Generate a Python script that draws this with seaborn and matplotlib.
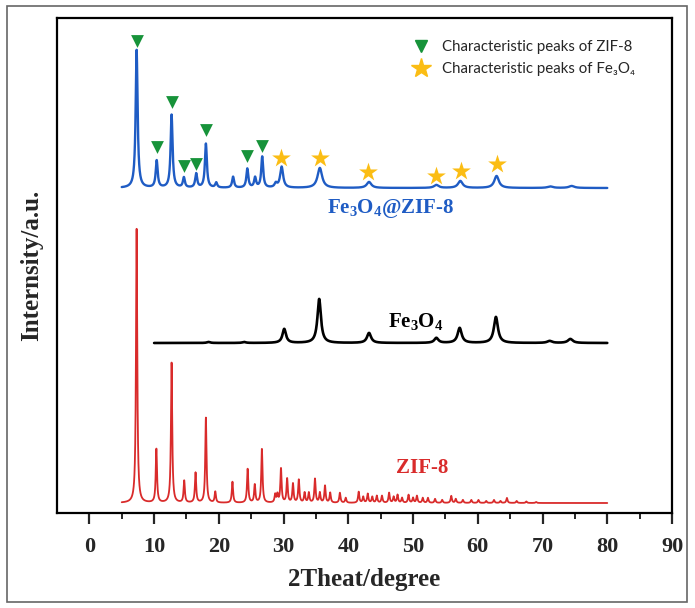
import numpy as np
import pandas as pd
import matplotlib
matplotlib.use("Agg")
import matplotlib.pyplot as plt
from matplotlib.lines import Line2D
from matplotlib.patches import Rectangle
import seaborn as sns

# --- peak tables (2theta, height above baseline, FWHM) ---
zif8_pos = [7.3, 10.35, 12.7, 14.65, 16.4, 18.0, 19.45, 22.1, 24.45, 25.55, 26.65,
            28.7, 29.05, 29.6, 30.55, 31.45, 32.35, 33.25, 33.9, 34.85, 35.6, 36.4,
            37.2, 38.7, 39.6, 41.6, 42.3, 43.0, 43.7, 44.4, 45.2, 46.3, 47.0, 47.6,
            48.3, 49.3, 50.0, 50.6, 51.5, 52.3, 53.4, 54.5, 55.9, 56.6, 57.7, 59.0,
            60.1, 61.3, 62.5, 63.5, 64.5, 66.0, 67.5, 69.0]
zif8_height = [274, 54, 140, 22, 30, 85, 11, 21, 34, 18, 54,
               8, 8, 34, 24, 19, 23, 10, 10, 24, 10, 17,
               10, 10, 5, 11, 6, 9, 6, 7, 7, 10, 6, 8,
               5, 8, 5, 7, 5, 5, 4, 3, 7, 4, 3, 3,
               3, 2, 3, 2, 5, 2, 1.5, 1]
zif8_base = 10

fe3o4_pos = [18.4, 23.9, 30.1, 35.5, 43.2, 53.6, 57.2, 62.8, 71.1, 74.3]
fe3o4_height = [1, 1, 14, 44, 10, 5, 15, 26, 2, 4]
fe3o4_fwhm = [0.6, 0.6, 0.65, 0.65, 0.75, 0.75, 0.75, 0.75, 0.9, 0.9]
fe3o4_base = 170

comp_pos = [7.3, 10.4, 12.7, 14.6, 16.5, 18.0, 19.6, 22.2, 24.4, 25.6, 26.7,
            28.8, 29.7, 35.6, 43.2, 53.6, 57.3, 62.9, 71.2, 74.5]
comp_height = [138, 27, 73, 10, 14, 44, 5, 11, 19, 10, 31,
               4, 21, 20, 6, 3, 7, 12, 1.5, 2]
comp_fwhm = [0.36, 0.36, 0.36, 0.36, 0.36, 0.36, 0.36, 0.36, 0.36, 0.36, 0.36,
             0.45, 0.55, 0.85, 0.85, 0.85, 0.85, 0.85, 1.0, 1.0]
comp_base = 325

# marker positions above characteristic peaks
tri_x = [7.3, 10.4, 12.7, 14.6, 16.5, 18.0, 24.4, 26.7]
tri_y = [472, 366, 411, 347, 349, 383, 357, 367]
star_x = [29.6, 35.6, 43.1, 53.6, 57.4, 62.9]
star_y = [355, 355, 341, 337, 342, 349]


def pattern(x, pos, height, fwhm, base):
    y = np.full_like(x, float(base))
    for p, h, w in zip(pos, height, fwhm):
        g = w / 2
        y += h * g**2 / ((x - p)**2 + g**2)
    return y


x_full = np.arange(5, 80.001, 0.02)
x_fe = np.arange(10, 80.001, 0.02)
df_zif = pd.DataFrame({"theta": x_full,
                       "intensity": pattern(x_full, zif8_pos, zif8_height,
                                            [0.23] * len(zif8_pos), zif8_base)})
df_fe = pd.DataFrame({"theta": x_fe,
                      "intensity": pattern(x_fe, fe3o4_pos, fe3o4_height, fe3o4_fwhm, fe3o4_base)})
df_comp = pd.DataFrame({"theta": x_full,
                        "intensity": pattern(x_full, comp_pos, comp_height, comp_fwhm, comp_base)})

sns.set_theme(style="white")
plt.rcParams["font.family"] = ["Liberation Serif", "DejaVu Serif"]
plt.rcParams["mathtext.fontset"] = "custom"
plt.rcParams["mathtext.rm"] = "Liberation Serif"
plt.rcParams["mathtext.bf"] = "Liberation Serif:bold"

blue = "#1f5cc4"
red = "#d92b2b"
green = "#17933a"
gold = "#fbbd14"

fig = plt.figure(figsize=(6.95, 6.08), dpi=100)
ax = fig.add_axes([57 / 695, 95 / 608, 615 / 695, 495 / 608])

sns.lineplot(data=df_zif, x="theta", y="intensity", color=red, lw=1.3, ax=ax, estimator=None)
sns.lineplot(data=df_fe, x="theta", y="intensity", color="black", lw=1.9, ax=ax, estimator=None)
sns.lineplot(data=df_comp, x="theta", y="intensity", color=blue, lw=1.7, ax=ax, estimator=None)

sns.scatterplot(x=tri_x, y=tri_y, marker="v", color=green, s=85, linewidth=0, ax=ax, zorder=5)
sns.scatterplot(x=star_x, y=star_y, marker="*", color=gold, s=200, linewidth=0, ax=ax, zorder=5)

ax.text(46.5, 304, r"$\mathbf{Fe_3O_4}$@ZIF-8", color=blue, fontsize=15, fontweight="bold",
        ha="center", va="center")
ax.text(50.4, 192, r"$\mathbf{Fe_3O_4}$", color="black", fontsize=15, fontweight="bold",
        ha="center", va="center")
ax.text(51.4, 45, "ZIF-8", color=red, fontsize=15, fontweight="bold", ha="center", va="center")

handles = [Line2D([], [], marker="v", color=green, linestyle="None", markersize=9),
           Line2D([], [], marker="*", color=gold, linestyle="None", markersize=15)]
labels = ["Characteristic peaks of ZIF-8", "Characteristic peaks of Fe\u2083O\u2084"]
ax.legend(handles, labels, loc="upper left", bbox_to_anchor=(0.558, 0.982), frameon=False,
          handlelength=1.0, handletextpad=0.9, labelspacing=0.5,
          prop={"family": ["Lato", "DejaVu Sans"], "size": 10.8})

ax.set_xlim(-5, 90)
ax.set_ylim(0, 495)
ax.set_xticks(range(0, 91, 10))
ax.set_xticks(range(5, 90, 10), minor=True)
ax.set_yticks([])
ax.tick_params(axis="x", which="major", direction="out", length=8, width=1.6, pad=9,
               labelsize=16, bottom=True)
ax.tick_params(axis="x", which="minor", direction="out", length=4.5, width=1.4, bottom=True)
for lbl in ax.get_xticklabels():
    lbl.set_fontweight("bold")
for sp in ax.spines.values():
    sp.set_visible(True)
    sp.set_linewidth(1.6)
    sp.set_color("black")

ax.set_xlabel("2Theat/degree", fontsize=18, fontweight="bold", labelpad=8)
ax.set_ylabel("Internsity/a.u.", fontsize=18, fontweight="bold", labelpad=10)

fig.add_artist(Rectangle((7 / 695, 6 / 608), 680 / 695, 596 / 608, transform=fig.transFigure,
                         fill=False, edgecolor="#666666", linewidth=1.2))

fig.savefig("out.png", dpi=100)
